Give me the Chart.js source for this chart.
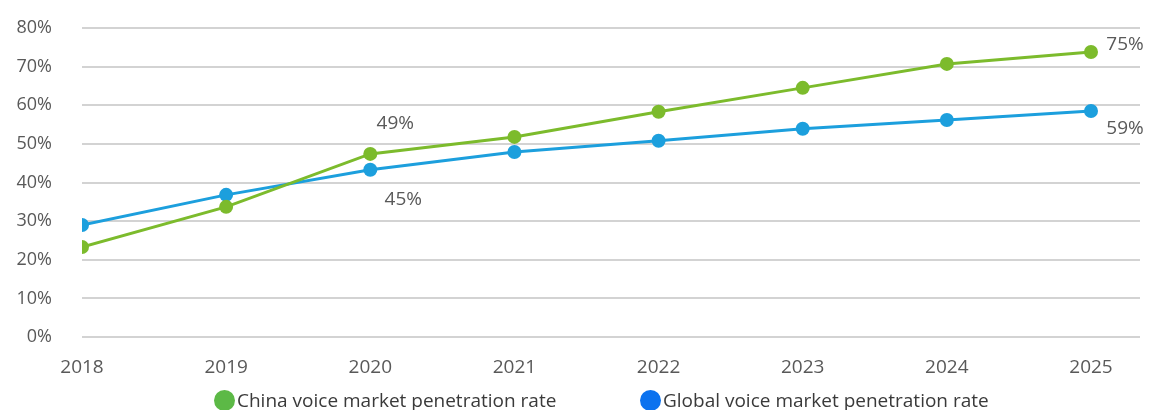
<!DOCTYPE html>
<html>
<head>
<meta charset="utf-8">
<script src="https://cdn.jsdelivr.net/npm/chart.js@4/dist/chart.umd.min.js"></script>
<style>
  html, body { margin: 0; padding: 0; background: #fff; }
  #wrap { position: relative; width: 1157px; height: 410px; }
  #legend { position: absolute; left: 0; top: 387px; width: 1157px; height: 26px;
            font-family: "Open Sans", sans-serif; font-size: 19px; color: #3a3a3a; }
  .item { position: absolute; top: 0; white-space: nowrap; line-height: 26px; }
  .dot { display: inline-block; width: 21px; height: 21px; border-radius: 50%;
         vertical-align: -4px; margin-right: 2px; }
</style>
</head>
<body>
<div id="wrap">
  <canvas id="chart" width="1157" height="410"></canvas>
  <div id="legend"></div>
</div>
<script>
const years = [2018, 2019, 2020, 2021, 2022, 2023, 2024, 2025];
const chinaRate = [23.3, 33.7, 47.4, 51.8, 58.3, 64.5, 70.7, 73.8];
const globalRate = [29.0, 36.8, 43.3, 47.9, 50.8, 53.9, 56.2, 58.5];
const yTicks = [0, 10, 20, 30, 40, 50, 60, 70, 80];
const seriesNames = ['China voice market penetration rate', 'Global voice market penetration rate'];
// value labels shown on the chart: [dataset, index, text, dx, dy]
const pointLabels = [
  [0, 2, '49%', 25, -30],
  [1, 2, '45%', 33, 30],
  [0, 7, '75%', 34, -7],
  [1, 7, '59%', 34, 18],
];

const green = '#7cbb2c';
const blue = '#1c9fdd';
const font = '"Open Sans", sans-serif';

const labelPlugin = {
  id: 'pointLabels',
  afterDatasetsDraw(chart) {
    const ctx = chart.ctx;
    ctx.save();
    ctx.font = '19px ' + font;
    ctx.fillStyle = '#595959';
    ctx.textAlign = 'center';
    ctx.textBaseline = 'middle';
    pointLabels.forEach(([ds, i, text, dx, dy]) => {
      const pt = chart.getDatasetMeta(ds).data[i];
      ctx.fillText(text, pt.x + dx, pt.y + dy);
    });
    ctx.restore();
  }
};

function lineSet(name, values, color) {
  return {
    label: name,
    data: years.map((y, i) => ({ x: y, y: values[i] })),
    borderColor: color,
    backgroundColor: color,
    borderWidth: 3,
    pointRadius: 7,
    pointHoverRadius: 7,
    pointBorderWidth: 0,
    tension: 0,
  };
}

new Chart(document.getElementById('chart'), {
  type: 'line',
  data: {
    datasets: [
      lineSet(seriesNames[0], chinaRate, green),
      lineSet(seriesNames[1], globalRate, blue),
    ],
  },
  options: {
    responsive: false,
    animation: false,
    layout: { padding: { left: 12, right: 17, top: 28, bottom: 23 } },
    plugins: { legend: { display: false }, tooltip: { enabled: false } },
    scales: {
      x: {
        type: 'linear',
        min: years[0],
        max: years[years.length - 1] + 0.34,
        afterBuildTicks: (axis) => { axis.ticks = years.map(v => ({ value: v })); },
        afterFit: (axis) => { axis.height = 50; },
        grid: { display: false, drawTicks: false },
        border: { display: false },
        ticks: {
          color: '#595959',
          font: { family: font, size: 19 },
          padding: 19,
          callback: (v) => String(v),
          maxRotation: 0,
        },
      },
      y: {
        min: 0,
        max: 80,
        afterBuildTicks: (axis) => { axis.ticks = yTicks.map(v => ({ value: v })); },
        afterFit: (axis) => {
          axis.width = 70;
          axis.paddingTop = 0;
          axis.paddingBottom = 0;
        },
        grid: { color: '#d3d3d3', lineWidth: 2, drawTicks: false },
        border: { display: false },
        ticks: {
          color: '#595959',
          font: { family: font, size: 18 },
          padding: 30,
          callback: (v) => v + '%',
        },
      },
    },
  },
  plugins: [labelPlugin],
});

const legendColors = ['#5cb946', '#0b72ef'];
const legendLeft = [214, 640];
const legend = document.getElementById('legend');
seriesNames.forEach((name, i) => {
  const item = document.createElement('div');
  item.className = 'item';
  item.style.left = legendLeft[i] + 'px';
  item.innerHTML = '<span class="dot" style="background:' + legendColors[i] + '"></span>' + name;
  legend.appendChild(item);
});
</script>
</body>
</html>
